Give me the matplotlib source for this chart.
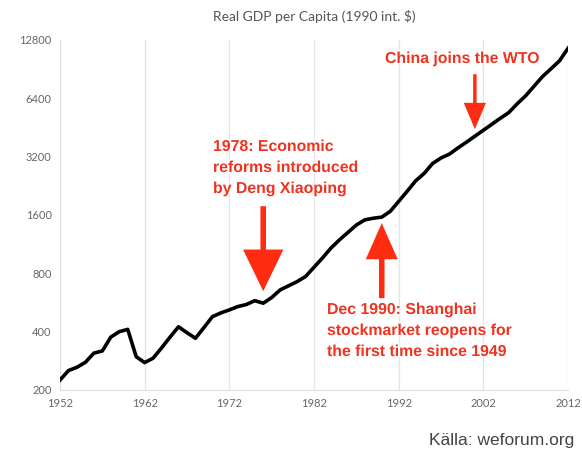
import numpy as np
import matplotlib.pyplot as plt
import matplotlib.patheffects as pe
from matplotlib.ticker import FixedLocator, NullLocator
from matplotlib.transforms import offset_copy

# Real GDP per capita, China (1990 int. $)
years = np.arange(1952, 2013)
gdp = [225, 252, 262, 278, 310, 318, 375, 400, 411, 297,
       277, 292, 330, 375, 424, 395, 370, 420, 478, 500,
       518, 539, 552, 578, 561, 600, 657, 690, 725, 770,
       860, 960, 1080, 1190, 1300, 1420, 1510, 1540, 1560, 1670,
       1880, 2120, 2400, 2620, 2950, 3150, 3300, 3550, 3800, 4080,
       4380, 4700, 5050, 5400, 6000, 6600, 7400, 8300, 9100, 10000,
       11600]

y_ticks = [200, 400, 800, 1600, 3200, 6400, 12800]
x_ticks = [1952, 1962, 1972, 1982, 1992, 2002, 2012]

red_text = '#ee3321'
red_arrow = '#ff2c12'

fig = plt.figure(figsize=(5.82, 4.57), dpi=100)
ax = fig.add_axes([60/582, 67/457, 508/582, 350/457])

ax.plot(years, gdp, color='black', lw=2.6, solid_joinstyle='round', zorder=3)

ax.set_yscale('log', base=2)
ax.set_ylim(200, 12800)
ax.set_xlim(1952, 2012)
ax.yaxis.set_major_locator(FixedLocator(y_ticks))
ax.yaxis.set_minor_locator(NullLocator())
ax.set_yticklabels([str(t) for t in y_ticks])
ax.set_xticks(x_ticks)
ax.tick_params(length=0, colors='#666666', labelsize=8, pad=6)
for lab in ax.get_xticklabels() + ax.get_yticklabels():
    lab.set_family('Lato')
ax.grid(axis='x', color='#e4e4e4', lw=0.9)
for s in ['top', 'right']:
    ax.spines[s].set_visible(False)
for s in ['left', 'bottom']:
    ax.spines[s].set_color('#dddddd')

ax.set_title('Real GDP per Capita (1990 int. $)', fontsize=10, color='#555555',
             family='Lato', pad=14)

# red labels with a soft shadow and white edge
halo = [pe.withSimplePatchShadow(offset=(0.8, -0.8), shadow_rgbFace='#999999', alpha=0.5),
        pe.withStroke(linewidth=2.2, foreground='white')]
txt = dict(color=red_text, fontsize=11.4, fontweight='bold', family='Liberation Sans',
           linespacing=1.5, path_effects=halo, zorder=5)


def draw_arrow(year, gap, length, hl, hw, tw):
    # vertical arrow whose tip sits `gap` pixels off the line at `year`
    i = list(years).index(year)
    tip = offset_copy(ax.transData, fig=fig, x=0, y=gap, units='dots')
    ax.annotate('', xy=(year, gdp[i]), xycoords=tip,
                xytext=(0, length), textcoords='offset pixels',
                arrowprops=dict(arrowstyle=f'simple,head_length={hl},head_width={hw},tail_width={tw}',
                                color=red_arrow, lw=0, shrinkA=0, shrinkB=0),
                zorder=4)


draw_arrow(1976, 12, 85, 3.0, 2.9, 0.4)
draw_arrow(2001, 7, 55, 1.9, 1.6, 0.25)
draw_arrow(1990, -6, -75, 2.6, 2.3, 0.4)

fig.text(213/582, 1 - 139/457, '1978: Economic\nreforms introduced\nby Deng Xiaoping',
         va='top', ha='left', **txt)
fig.text(385/582, 1 - 51/457, 'China joins the WTO', va='top', ha='left', **txt)
fig.text(327/582, 1 - 302/457, 'Dec 1990: Shanghai\nstockmarket reopens for\nthe first time since 1949',
         va='top', ha='left', **txt)

fig.text(574/582, 1 - 440/457, 'Källa: weforum.org', ha='right', va='center',
         fontsize=12.5, color='#444444', family='Liberation Sans')

fig.savefig('out.png', dpi=100)
